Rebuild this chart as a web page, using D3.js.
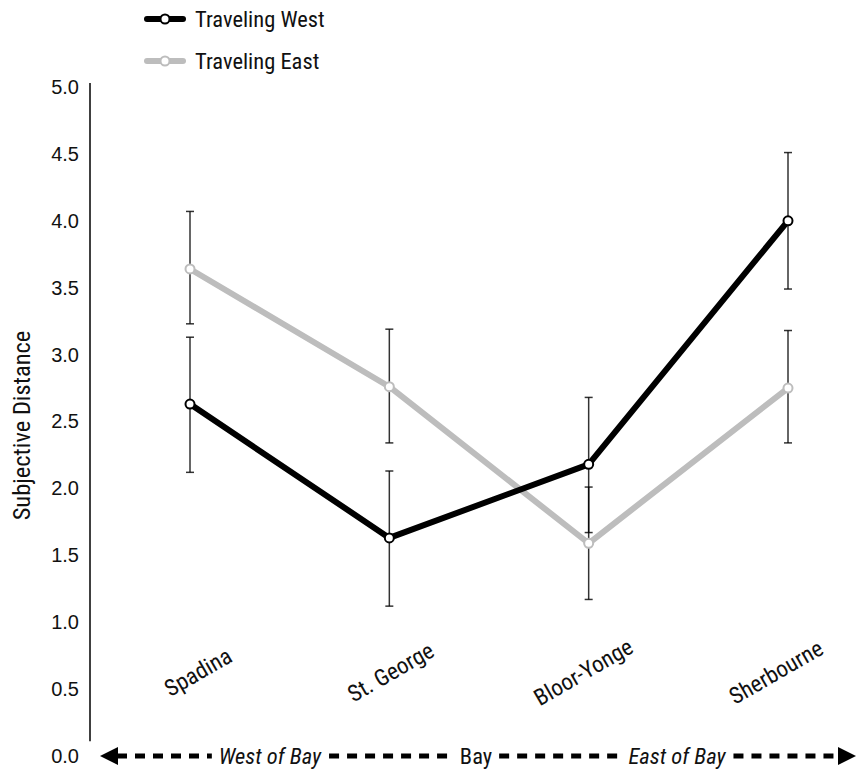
<!DOCTYPE html>
<html>
<head>
<meta charset="utf-8">
<script src="https://cdn.jsdelivr.net/npm/d3@7/dist/d3.min.js"></script>
<style>
  body { margin: 0; background: #fff; }
  svg { display: block; }
  .cond { font-family: "Roboto Condensed", "Arial Narrow", "Liberation Sans Narrow", sans-serif; }
</style>
</head>
<body>
<svg id="chart" width="857" height="772"></svg>
<script>
const stations = ["Spadina", "St. George", "Bloor-Yonge", "Sherbourne"];
const westMean = [2.63, 1.63, 2.18, 4.00];
const westLow  = [2.12, 1.12, 1.67, 3.49];
const westHigh = [3.13, 2.13, 2.68, 4.51];
const eastMean = [3.64, 2.76, 1.59, 2.75];
const eastLow  = [3.23, 2.34, 1.17, 2.34];
const eastHigh = [4.07, 3.19, 2.01, 3.18];
const seriesNames = ["Traveling West", "Traveling East"];
const yTicks = [0, 0.5, 1, 1.5, 2, 2.5, 3, 3.5, 4, 4.5, 5];
const directionLabels = ["West of Bay", "Bay", "East of Bay"];

const svg = d3.select("#chart");
const y = d3.scaleLinear().domain([0, 5]).range([756, 87]);
const x = d3.scalePoint().domain(stations).range([190, 788]);
const xLabel = d3.scalePoint().domain(stations).range([198, 776]);

const series = [
  { name: seriesNames[0], mean: westMean, lo: westLow, hi: westHigh, color: "#000" },
  { name: seriesNames[1], mean: eastMean, lo: eastLow, hi: eastHigh, color: "#bdbdbd" }
];

// Y axis
const yAxis = d3.axisLeft(y).tickValues(yTicks).tickFormat(d3.format(".1f")).tickSize(0).tickPadding(11);
const gy = svg.append("g").attr("transform", "translate(90,0)").call(yAxis);
gy.select(".domain").remove();
gy.selectAll("text").attr("font-family", "'Liberation Sans', Arial, sans-serif").attr("font-size", 20).attr("fill", "#111");
svg.append("line").attr("x1", 90).attr("x2", 90).attr("y1", y(5.03)).attr("y2", y(0.11))
  .attr("stroke", "#000").attr("stroke-width", 1.5);

svg.append("text").attr("class", "cond")
  .attr("transform", `translate(30,${y(2.47)}) rotate(-90)`)
  .attr("text-anchor", "middle").attr("font-size", 24.5).attr("fill", "#111")
  .text("Subjective Distance");

// error bars
const capW = 4;
series.forEach(s => {
  const g = svg.append("g");
  stations.forEach((st, i) => {
    const cx = x(st);
    g.append("line").attr("x1", cx).attr("x2", cx).attr("y1", y(s.lo[i])).attr("y2", y(s.hi[i]));
    g.append("line").attr("x1", cx - capW).attr("x2", cx + capW).attr("y1", y(s.lo[i])).attr("y2", y(s.lo[i]));
    g.append("line").attr("x1", cx - capW).attr("x2", cx + capW).attr("y1", y(s.hi[i])).attr("y2", y(s.hi[i]));
  });
  g.selectAll("line").attr("stroke", "#000").attr("stroke-width", 1.5).attr("stroke-opacity", 0.8);
});

// lines (east first, then west on top)
const line = d3.line().x((d, i) => x(stations[i])).y(d => y(d));
[series[1], series[0]].forEach(s => {
  svg.append("path").datum(s.mean).attr("d", line)
    .attr("fill", "none").attr("stroke", s.color).attr("stroke-width", 6).attr("stroke-linejoin", "round");
});
[series[1], series[0]].forEach(s => {
  svg.append("g").selectAll("circle").data(s.mean).join("circle")
    .attr("cx", (d, i) => x(stations[i])).attr("cy", d => y(d)).attr("r", 4.5)
    .attr("fill", "#fff").attr("stroke", s.color).attr("stroke-width", 2);
});

// category labels
svg.append("g").selectAll("text").data(stations).join("text")
  .attr("class", "cond")
  .attr("transform", d => `translate(${xLabel(d)},${672}) rotate(-30)`)
  .attr("text-anchor", "middle").attr("dy", "0.35em")
  .attr("font-size", 23).attr("fill", "#111").text(d => d);

// legend
series.forEach((s, i) => {
  const ly = 19 + i * 42;
  svg.append("line").attr("x1", 147).attr("x2", 183).attr("y1", ly).attr("y2", ly)
    .attr("stroke", s.color).attr("stroke-width", 6).attr("stroke-linecap", "round");
  svg.append("circle").attr("cx", 165).attr("cy", ly).attr("r", 4.5)
    .attr("fill", "#fff").attr("stroke", s.color).attr("stroke-width", 2);
  svg.append("text").attr("class", "cond").attr("x", 195).attr("y", ly).attr("dy", "0.36em")
    .attr("font-size", 22.5).attr("fill", "#111").text(s.name);
});

// bottom direction arrow
const ay = y(0);
const dirG = svg.append("g");
const textCenters = [270, 476, 677];
const texts = directionLabels.map((t, i) => dirG.append("text").attr("class", "cond")
  .attr("x", textCenters[i]).attr("y", ay).attr("dy", "0.36em").attr("text-anchor", "middle")
  .attr("font-size", 22.5).attr("font-style", i === 1 ? "normal" : "italic").attr("fill", "#111").text(t));
const bounds = texts.map(t => { const b = t.node().getBBox(); return [b.x - 7, b.x + b.width + 7]; });
const segs = [[117, bounds[0][0]], [bounds[0][1], bounds[1][0]], [bounds[1][1], bounds[2][0]], [bounds[2][1], 840]];
segs.forEach(sg => {
  dirG.append("line").attr("x1", sg[0]).attr("x2", sg[1]).attr("y1", ay).attr("y2", ay)
    .attr("stroke", "#000").attr("stroke-width", 5).attr("stroke-dasharray", "10,8");
});
dirG.append("path").attr("d", `M100,${ay} L118,${ay - 9} L118,${ay + 9} Z`).attr("fill", "#000");
dirG.append("path").attr("d", `M856,${ay} L838,${ay - 9} L838,${ay + 9} Z`).attr("fill", "#000");
</script>
</body>
</html>
